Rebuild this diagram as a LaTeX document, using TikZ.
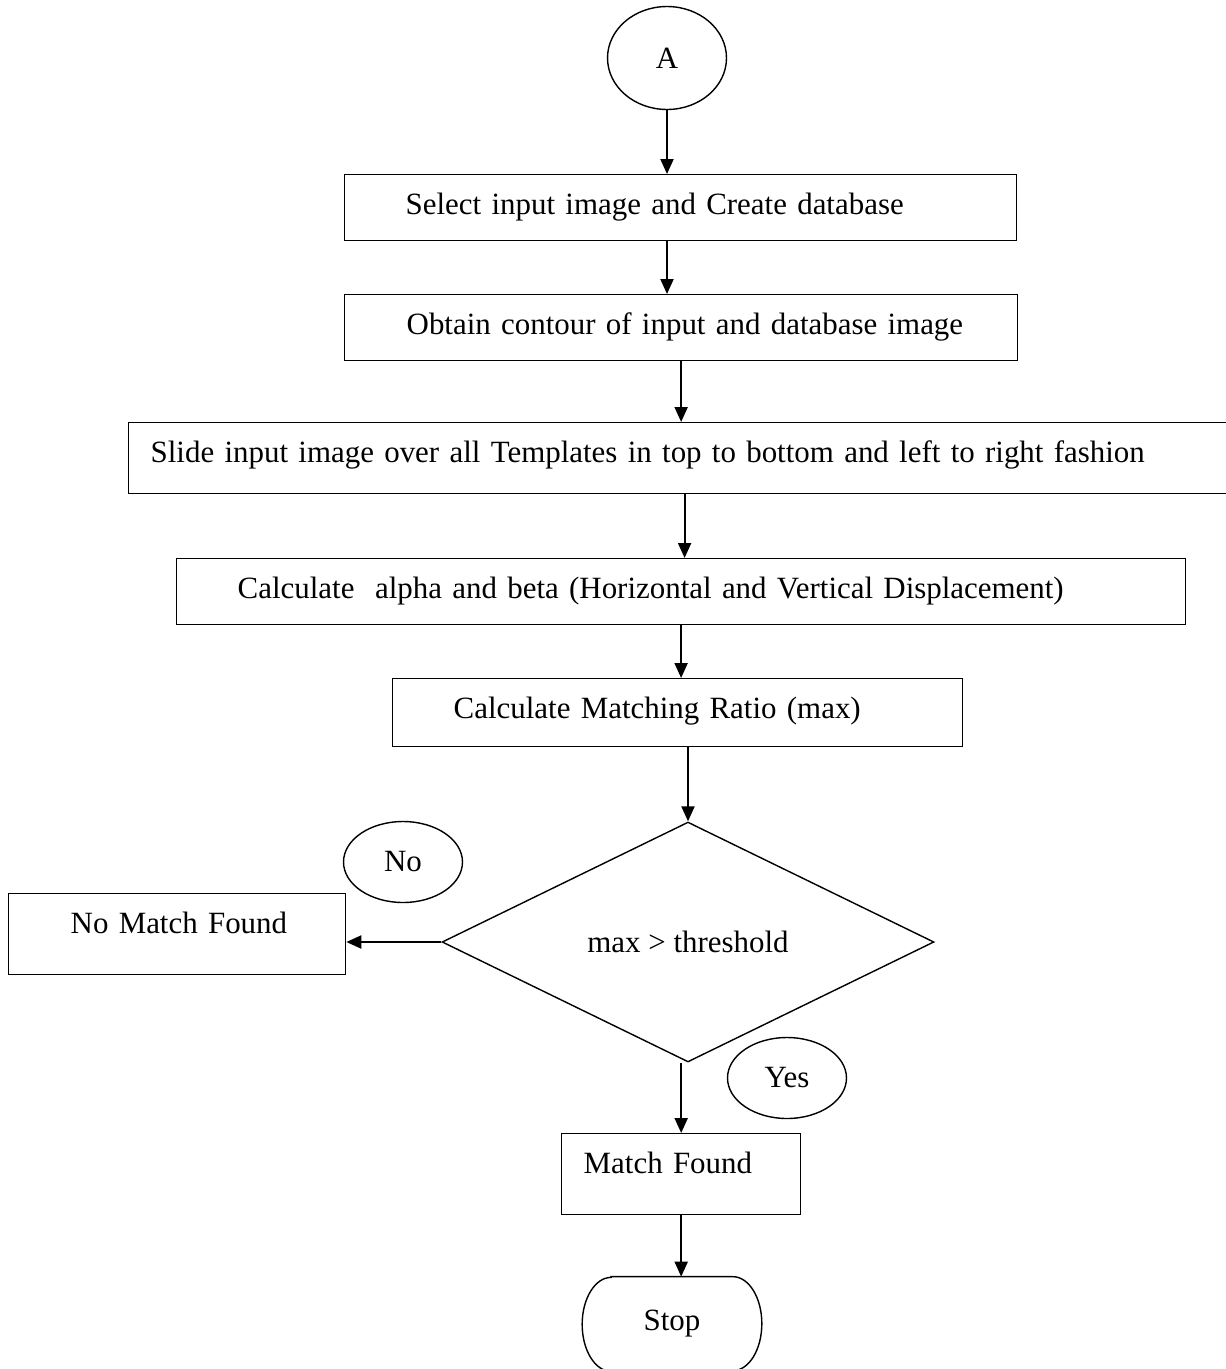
\documentclass[tikz,border=0pt]{standalone}
\usepackage{fontspec}
\setmainfont{Liberation Serif}
\usetikzlibrary{shapes.geometric,arrows.meta}
\tikzset{
  stepbox/.style={draw, line width=0.8pt, inner xsep=0pt, inner ysep=0pt, text height=0.8cm, align=left, anchor=north west},
  decision/.style={diamond, draw, line width=0.8pt, inner sep=0pt, minimum width=9.84cm, minimum height=4.8cm},
  tag/.style={ellipse, draw, line width=0.8pt, inner sep=0pt, minimum width=2.38cm, minimum height=1.62cm},
  flow/.style={-{Triangle[length=0.3cm,width=0.26cm]}, line width=1.2pt}
}
\begin{document}
\begin{tikzpicture}[x=0.02cm, y=-0.02cm, font=\fontsize{17.6}{21}\selectfont]
    \useasboundingbox (0,0) rectangle (1225,1369);

    \node[tag, minimum height=2.06cm] (A) at (667,58) {A};

    \node[stepbox, text width=13.44cm, text depth=0.52cm] (select) at (344,174) {\hspace*{1.22cm}Select input image and Create database};
    \node[stepbox, text width=13.46cm, text depth=0.52cm] (contour) at (344,294) {\hspace*{1.24cm}Obtain contour of input and database image};
    \node[stepbox, text width=22.24cm, text depth=0.62cm] (slide) at (128,422) {\hspace*{0.44cm}Slide input image over all Templates in top to bottom and left to right fashion};
    \node[stepbox, text width=20.18cm, text depth=0.52cm] (disp) at (176,558) {\hspace*{1.22cm}Calculate~~alpha and beta (Horizontal and Vertical Displacement)};
    \node[stepbox, text width=11.4cm, text depth=0.56cm] (ratio) at (392,678) {\hspace*{1.22cm}Calculate Matching Ratio (max)};

    \node[decision] (check) at (688,942) {max > threshold};
    \node[tag] (no) at (403,862) {No};
    \node[tag] (yes) at (787,1078) {Yes};

    \node[stepbox, text width=6.74cm, text depth=0.82cm] (nomatch) at (8,893) {\hspace*{1.24cm}No Match Found};
    \node[stepbox, text width=4.78cm, text depth=0.82cm] (match) at (561,1133) {\hspace*{0.44cm}Match Found};

    % terminator with half-ellipse ends
    \node[minimum width=3.58cm, minimum height=1.88cm, inner sep=0pt] (stop) at (672,1324) {Stop};
    \draw[line width=0.8pt] ([xshift=0.58cm]stop.north west) -- ([xshift=-0.58cm]stop.north east)
        arc[start angle=90, end angle=-90, x radius=0.58cm, y radius=0.94cm]
        -- ([xshift=0.58cm]stop.south west)
        arc[start angle=270, end angle=90, x radius=0.58cm, y radius=0.94cm] -- cycle;

    \draw[flow] (A.south) -- (A.south |- select.north);
    \draw[flow] (A.south |- select.south) -- (A.south |- contour.north);
    \draw[flow] (contour.south) -- (contour.south |- slide.north);
    \draw[flow] (slide.south) -- (slide.south |- disp.north);
    \draw[flow] (disp.south) -- (disp.south |- ratio.north);
    \draw[flow] (check.north |- ratio.south) -- (check.north);
    \draw[flow] (check.west) -- (check.west -| nomatch.east);
    \draw[flow] (match.north |- check.south) -- (match.north);
    \draw[flow] (match.south) -- (match.south |- stop.north);
\end{tikzpicture}
\end{document}
